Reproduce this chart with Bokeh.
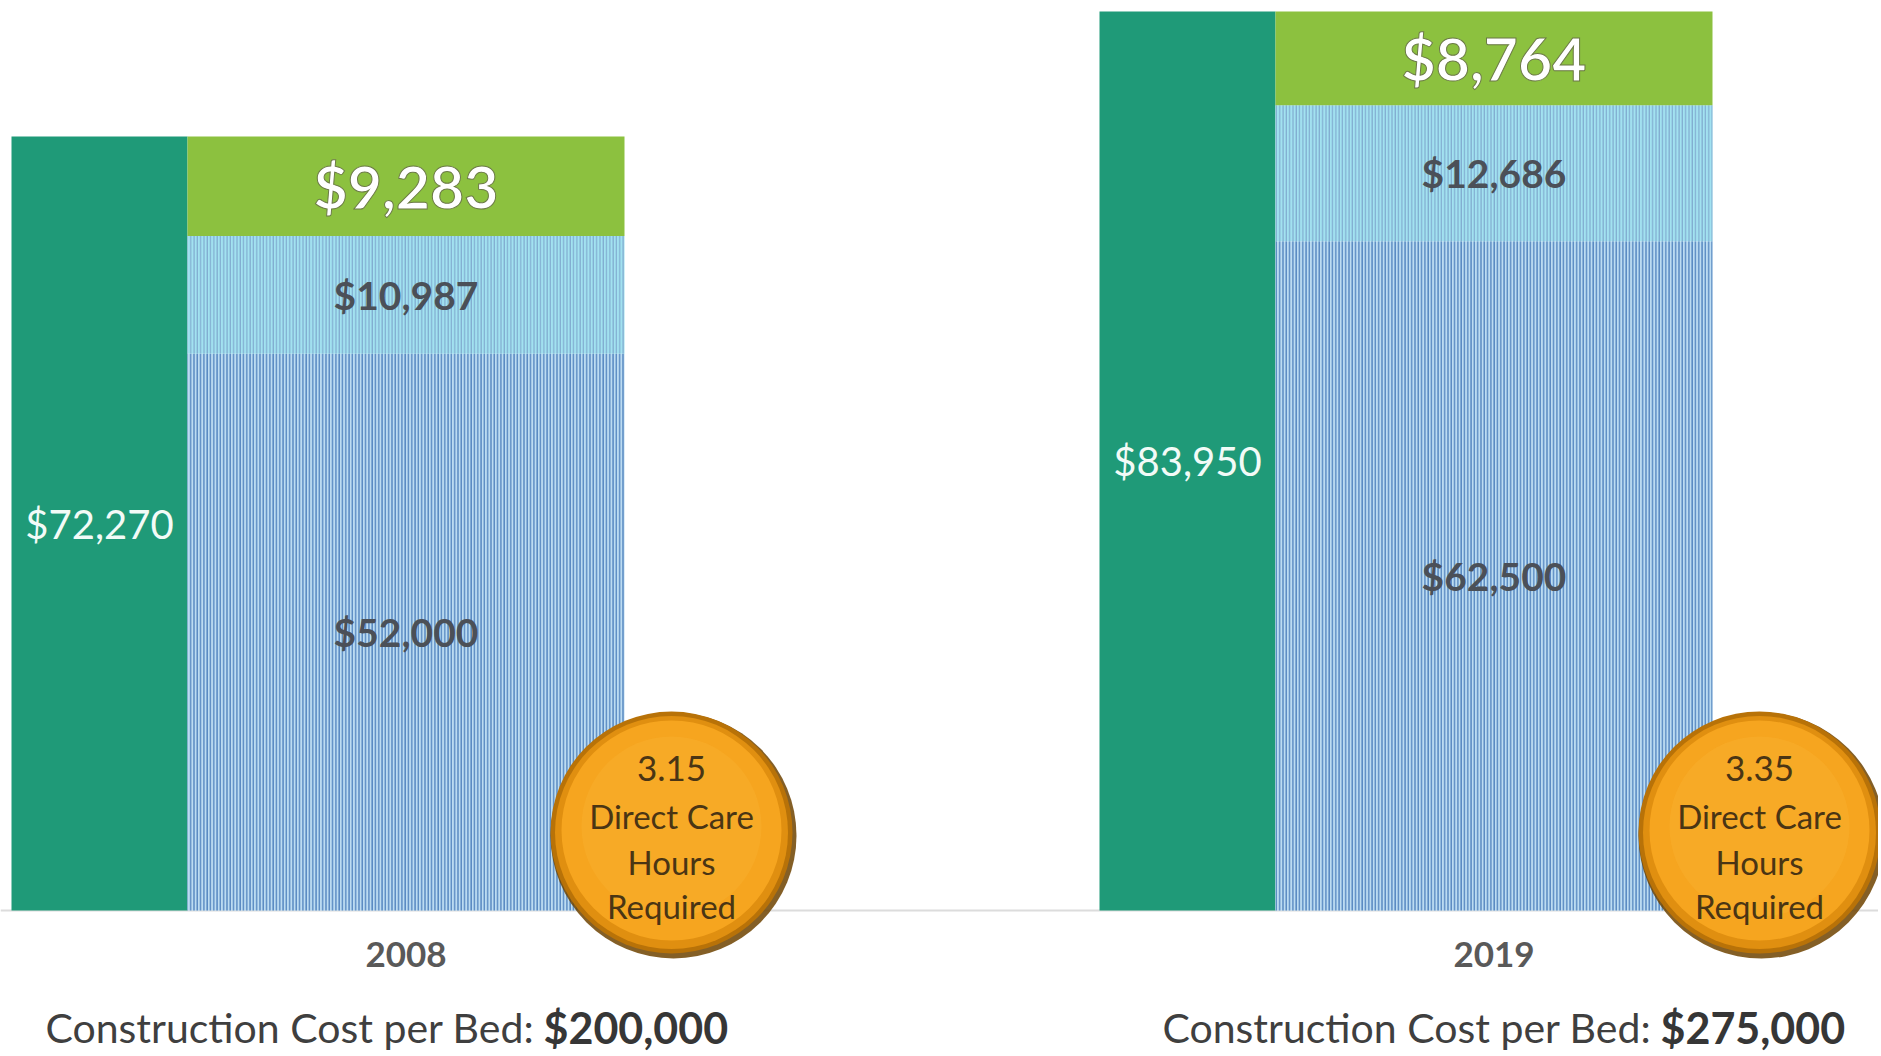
from bokeh.plotting import figure
from bokeh.models import Range1d, Span
from bokeh.core.properties import value
from bokeh.embed import file_html
from bokeh.resources import INLINE

# ---------------- data ----------------
years = ["2008", "2019"]
total_cost = [72270, 83950]            # single teal bar
seg_bottom = [52000, 62500]            # dark striped segment
seg_middle = [10987, 12686]            # light striped segment
seg_top = [9283, 8764]                 # green segment
construction_cost = [200000, 275000]
care_hours = [3.15, 3.35]

# ---------------- layout ----------------
W, H = 1878, 1054
BASE = 910                 # baseline, px from top of frame
K = 83950 / 899.0          # value units per pixel
GROUP0 = 11                # left edge of first group (px)
GROUP_STEP = 1088          # distance between groups (px)
TEAL_W = 176
STACK_W = 437
BOLD_X = [543, 1660]       # start of bold cost text per group

def ypx(frame_y):
    return (BASE - frame_y) * K

p = figure(width=W, height=H, x_range=Range1d(0, W),
           y_range=Range1d(ypx(H), ypx(0)),
           output_backend="svg", toolbar_location=None, min_border=0)
p.axis.visible = False
p.grid.visible = False
p.outline_line_color = None
p.background_fill_color = "white"
p.border_fill_color = "white"

FONT = value("Lato")
n = len(years)
teal_x = [GROUP0 + i * GROUP_STEP + TEAL_W / 2 for i in range(n)]
stack_x = [GROUP0 + i * GROUP_STEP + TEAL_W + STACK_W / 2 for i in range(n)]
stack_right = [GROUP0 + i * GROUP_STEP + TEAL_W + STACK_W for i in range(n)]

# baseline (drawn beneath the glyphs)
p.add_layout(Span(location=0, dimension="width", line_color="#dcdcdc",
                  line_width=2, level="underlay"))

# teal total bars
p.vbar(x=teal_x, width=TEAL_W, top=total_cost, bottom=0,
       fill_color="#1f9a78", line_color=None)

# stacked bars
b1 = seg_bottom
b2 = [a + b for a, b in zip(seg_bottom, seg_middle)]
b3 = [a + b for a, b in zip(b2, seg_top)]
p.vbar(x=stack_x, width=STACK_W, bottom=0, top=b1,
       fill_color="#bcdcf2", line_color=None,
       hatch_pattern="vertical_line", hatch_color="#5a8ac2",
       hatch_scale=3.3, hatch_weight=1.6)
p.vbar(x=stack_x, width=STACK_W, bottom=b1, top=b2,
       fill_color="#a2e2f0", line_color=None,
       hatch_pattern="vertical_line", hatch_color="#7ca6cc",
       hatch_scale=3.3, hatch_weight=1.1)
p.vbar(x=stack_x, width=STACK_W, bottom=b2, top=b3,
       fill_color="#8cc13f", line_color=None)

def money(v):
    return "${:,}".format(v)

# teal labels
p.text(x=teal_x, y=[t / 2 for t in total_cost], text=[money(v) for v in total_cost],
       text_font=FONT, text_font_size="40px", text_color="#f2fbf7",
       text_align="center", text_baseline="middle")

# segment labels
p.text(x=stack_x, y=[b / 2 for b in b1], text=[money(v) for v in seg_bottom],
       text_font=FONT, text_font_style="bold", text_font_size="39px",
       text_color="#4b5058", text_align="center", text_baseline="middle")
p.text(x=stack_x, y=[(a + b) / 2 for a, b in zip(b1, b2)], text=[money(v) for v in seg_middle],
       text_font=FONT, text_font_style="bold", text_font_size="39px",
       text_color="#4b5058", text_align="center", text_baseline="middle")
p.text(x=stack_x, y=[(a + b) / 2 for a, b in zip(b2, b3)], text=[money(v) for v in seg_top],
       text_font=FONT, text_font_style="bold", text_font_size="59px",
       text_color="#ffffff", text_align="center", text_baseline="middle",
       text_outline_color="#6b7a45")

# year labels
p.text(x=stack_x, y=[ypx(954)] * n, text=years,
       text_font=FONT, text_font_style="bold", text_font_size="35px",
       text_color="#595959", text_align="center", text_baseline="middle")

# construction cost texts
p.text(x=[bx - 9 for bx in BOLD_X], y=[ypx(1027)] * n,
       text=["Construction Cost per Bed:"] * n,
       text_font=FONT, text_font_size="41px", text_color="#3f3f3f",
       text_align="right", text_baseline="middle")
p.text(x=BOLD_X, y=[ypx(1027)] * n, text=[money(v) for v in construction_cost],
       text_font=FONT, text_font_style="bold", text_font_size="43px", text_color="#363636",
       text_align="left", text_baseline="middle")

# badge circles
cx = [r + 47 for r in stack_right]
cy = ypx(832)
p.scatter(x=[c + 2 for c in cx], y=[cy - 3 * K] * n, size=246, marker="circle",
          fill_color="#6e4300", line_color=None, fill_alpha=0.85)
p.scatter(x=cx, y=[cy] * n, size=242, marker="circle",
          fill_color="#b87208", line_color=None)
p.scatter(x=cx, y=[cy] * n, size=233, marker="circle",
          fill_color="#e08f10", line_color=None)
p.scatter(x=cx, y=[cy + 2 * K] * n, size=220, marker="circle",
          fill_color="#f6a51f", line_color=None)
p.scatter(x=cx, y=[cy + 6 * K] * n, size=180, marker="circle",
          fill_color="#f9ad2c", line_color=None, fill_alpha=0.6)

badge_lines = [("{:.2f}".format(h), "Direct Care", "Hours", "Required") for h in care_hours]
offsets = [-64, -17, 29, 73]
for j, off in enumerate(offsets):
    p.text(x=cx, y=[ypx(832 + off)] * n, text=[bl[j] for bl in badge_lines],
           text_font=FONT, text_font_size="35px" if j == 0 else "33px",
           text_color="#4a3514", text_align="center", text_baseline="middle")

open("out.html", "w").write(file_html(p, INLINE))
